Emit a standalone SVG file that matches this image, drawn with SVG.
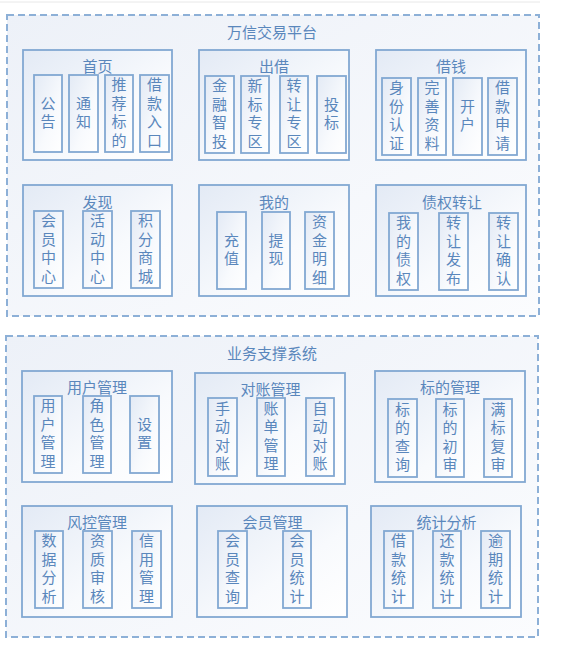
<svg xmlns="http://www.w3.org/2000/svg" width="565" height="656" viewBox="0 0 565 656">
<defs>
<linearGradient id="gBox" x1="0" y1="0" x2="1" y2="1">
<stop offset="0" stop-color="#E3EAF5"/>
<stop offset="0.6" stop-color="#F8FAFD"/>
<stop offset="1" stop-color="#FFFFFF"/>
</linearGradient>
<linearGradient id="gOuter" x1="0" y1="0" x2="1" y2="1">
<stop offset="0" stop-color="#EDF1F8"/>
<stop offset="1" stop-color="#FBFCFE"/>
</linearGradient>
</defs>
<style>
text{font-family:"Noto Sans CJK SC","Noto Sans",sans-serif;font-size:15px;fill:#5A87BC;text-anchor:middle}
.outer{fill:url(#gOuter);stroke:#8DB0D7;stroke-width:2;stroke-dasharray:7 4}
.box{fill:url(#gBox);stroke:#82A8D2;stroke-width:1.8}
.item{fill:url(#gBox);stroke:#82A8D2;stroke-width:1.8}
</style>
<rect width="565" height="656" fill="#FFFFFF"/>
<line x1="0" y1="2" x2="540" y2="2" stroke="#E8E8E8" stroke-width="1"/>
<g id="connectors"/>

<g id="platform">
<rect class="outer" x="7" y="15" width="532" height="301"/>
<text x="272" y="37.5">万信交易平台</text>
</g>

<g id="home">
<rect class="box" x="23" y="50" width="149" height="110"/>
<text x="97.5" y="71.5">首页</text>
<rect class="item" x="34" y="75" width="28" height="77"/><text><tspan x="48" y="108.8">公</tspan><tspan x="48" y="127.3">告</tspan></text>
<rect class="item" x="69" y="75" width="29" height="77"/><text><tspan x="83.5" y="108.8">通</tspan><tspan x="83.5" y="127.3">知</tspan></text>
<rect class="item" x="105" y="75" width="28" height="77"/><text><tspan x="119" y="90.3">推</tspan><tspan x="119" y="108.8">荐</tspan><tspan x="119" y="127.3">标</tspan><tspan x="119" y="145.8">的</tspan></text>
<rect class="item" x="140" y="75" width="29" height="77"/><text><tspan x="154.5" y="90.3">借</tspan><tspan x="154.5" y="108.8">款</tspan><tspan x="154.5" y="127.3">入</tspan><tspan x="154.5" y="145.8">口</tspan></text>
</g>

<g id="lend">
<rect class="box" x="199" y="50" width="150" height="110"/>
<text x="274" y="71.5">出借</text>
<rect class="item" x="205" y="76" width="29" height="77"/><text><tspan x="219.5" y="91.3">金</tspan><tspan x="219.5" y="109.8">融</tspan><tspan x="219.5" y="128.3">智</tspan><tspan x="219.5" y="146.8">投</tspan></text>
<rect class="item" x="241" y="76" width="28" height="77"/><text><tspan x="255" y="91.3">新</tspan><tspan x="255" y="109.8">标</tspan><tspan x="255" y="128.3">专</tspan><tspan x="255" y="146.8">区</tspan></text>
<rect class="item" x="280" y="76" width="28" height="77"/><text><tspan x="294" y="91.3">转</tspan><tspan x="294" y="109.8">让</tspan><tspan x="294" y="128.3">专</tspan><tspan x="294" y="146.8">区</tspan></text>
<rect class="item" x="317" y="76" width="29" height="77"/><text><tspan x="331.5" y="109.8">投</tspan><tspan x="331.5" y="128.3">标</tspan></text>
</g>

<g id="borrow">
<rect class="box" x="376" y="50" width="150" height="110"/>
<text x="451" y="71.5">借钱</text>
<rect class="item" x="382" y="78" width="29" height="77"/><text><tspan x="396.5" y="93.3">身</tspan><tspan x="396.5" y="111.8">份</tspan><tspan x="396.5" y="130.3">认</tspan><tspan x="396.5" y="148.8">证</tspan></text>
<rect class="item" x="418" y="78" width="28" height="77"/><text><tspan x="432" y="93.3">完</tspan><tspan x="432" y="111.8">善</tspan><tspan x="432" y="130.3">资</tspan><tspan x="432" y="148.8">料</tspan></text>
<rect class="item" x="453" y="78" width="29" height="77"/><text><tspan x="467.5" y="111.8">开</tspan><tspan x="467.5" y="130.3">户</tspan></text>
<rect class="item" x="488" y="78" width="29" height="77"/><text><tspan x="502.5" y="93.3">借</tspan><tspan x="502.5" y="111.8">款</tspan><tspan x="502.5" y="130.3">申</tspan><tspan x="502.5" y="148.8">请</tspan></text>
</g>

<g id="discover">
<rect class="box" x="23" y="185" width="149" height="111"/>
<text x="97.5" y="207.5">发现</text>
<rect class="item" x="34" y="211" width="29" height="77"/><text><tspan x="48.5" y="226.3">会</tspan><tspan x="48.5" y="244.8">员</tspan><tspan x="48.5" y="263.3">中</tspan><tspan x="48.5" y="281.8">心</tspan></text>
<rect class="item" x="83" y="211" width="29" height="77"/><text><tspan x="97.5" y="226.3">活</tspan><tspan x="97.5" y="244.8">动</tspan><tspan x="97.5" y="263.3">中</tspan><tspan x="97.5" y="281.8">心</tspan></text>
<rect class="item" x="131" y="211" width="29" height="77"/><text><tspan x="145.5" y="226.3">积</tspan><tspan x="145.5" y="244.8">分</tspan><tspan x="145.5" y="263.3">商</tspan><tspan x="145.5" y="281.8">城</tspan></text>
</g>

<g id="mine">
<rect class="box" x="199" y="185" width="150" height="111"/>
<text x="274" y="207.5">我的</text>
<rect class="item" x="217" y="212" width="29" height="77"/><text><tspan x="231.5" y="245.8">充</tspan><tspan x="231.5" y="264.3">值</tspan></text>
<rect class="item" x="262" y="212" width="28" height="77"/><text><tspan x="276" y="245.8">提</tspan><tspan x="276" y="264.3">现</tspan></text>
<rect class="item" x="305" y="212" width="29" height="77"/><text><tspan x="319.5" y="227.3">资</tspan><tspan x="319.5" y="245.8">金</tspan><tspan x="319.5" y="264.3">明</tspan><tspan x="319.5" y="282.8">细</tspan></text>
</g>

<g id="debt-transfer">
<rect class="box" x="376" y="185" width="150" height="111"/>
<text x="452" y="207.5">债权转让</text>
<rect class="item" x="389" y="213" width="29" height="77"/><text><tspan x="403.5" y="228.3">我</tspan><tspan x="403.5" y="246.8">的</tspan><tspan x="403.5" y="265.3">债</tspan><tspan x="403.5" y="283.8">权</tspan></text>
<rect class="item" x="439" y="213" width="29" height="77"/><text><tspan x="453.5" y="228.3">转</tspan><tspan x="453.5" y="246.8">让</tspan><tspan x="453.5" y="265.3">发</tspan><tspan x="453.5" y="283.8">布</tspan></text>
<rect class="item" x="489" y="213" width="29" height="77"/><text><tspan x="503.5" y="228.3">转</tspan><tspan x="503.5" y="246.8">让</tspan><tspan x="503.5" y="265.3">确</tspan><tspan x="503.5" y="283.8">认</tspan></text>
</g>

<g id="support">
<rect class="outer" x="6" y="336" width="532" height="301"/>
<text x="272" y="358.5">业务支撑系统</text>
</g>

<g id="user-mgmt">
<rect class="box" x="22" y="371" width="150" height="111"/>
<text x="97" y="392.5">用户管理</text>
<rect class="item" x="34" y="396" width="28" height="77"/><text><tspan x="48" y="411.3">用</tspan><tspan x="48" y="429.8">户</tspan><tspan x="48" y="448.3">管</tspan><tspan x="48" y="466.8">理</tspan></text>
<rect class="item" x="83" y="396" width="28" height="77"/><text><tspan x="97" y="411.3">角</tspan><tspan x="97" y="429.8">色</tspan><tspan x="97" y="448.3">管</tspan><tspan x="97" y="466.8">理</tspan></text>
<rect class="item" x="130" y="396" width="29" height="77"/><text><tspan x="144.5" y="429.8">设</tspan><tspan x="144.5" y="448.3">置</tspan></text>
</g>

<g id="reconcile">
<rect class="box" x="195" y="373" width="150" height="111"/>
<text x="270.5" y="394.5">对账管理</text>
<rect class="item" x="208" y="398" width="29" height="78"/><text><tspan x="222.5" y="413.8">手</tspan><tspan x="222.5" y="432.3">动</tspan><tspan x="222.5" y="450.8">对</tspan><tspan x="222.5" y="469.3">账</tspan></text>
<rect class="item" x="257" y="398" width="28" height="78"/><text><tspan x="271" y="413.8">账</tspan><tspan x="271" y="432.3">单</tspan><tspan x="271" y="450.8">管</tspan><tspan x="271" y="469.3">理</tspan></text>
<rect class="item" x="306" y="398" width="28" height="78"/><text><tspan x="320" y="413.8">自</tspan><tspan x="320" y="432.3">动</tspan><tspan x="320" y="450.8">对</tspan><tspan x="320" y="469.3">账</tspan></text>
</g>

<g id="loan-mgmt">
<rect class="box" x="375" y="371" width="150" height="111"/>
<text x="450" y="392.5">标的管理</text>
<rect class="item" x="388" y="399" width="29" height="78"/><text><tspan x="402.5" y="414.8">标</tspan><tspan x="402.5" y="433.3">的</tspan><tspan x="402.5" y="451.8">查</tspan><tspan x="402.5" y="470.3">询</tspan></text>
<rect class="item" x="436" y="399" width="28" height="78"/><text><tspan x="450" y="414.8">标</tspan><tspan x="450" y="433.3">的</tspan><tspan x="450" y="451.8">初</tspan><tspan x="450" y="470.3">审</tspan></text>
<rect class="item" x="484" y="399" width="28" height="78"/><text><tspan x="498" y="414.8">满</tspan><tspan x="498" y="433.3">标</tspan><tspan x="498" y="451.8">复</tspan><tspan x="498" y="470.3">审</tspan></text>
</g>

<g id="risk">
<rect class="box" x="22" y="506" width="150" height="111"/>
<text x="97" y="527.5">风控管理</text>
<rect class="item" x="35" y="531" width="28" height="77"/><text><tspan x="49" y="546.3">数</tspan><tspan x="49" y="564.8">据</tspan><tspan x="49" y="583.3">分</tspan><tspan x="49" y="601.8">析</tspan></text>
<rect class="item" x="83" y="531" width="29" height="77"/><text><tspan x="97.5" y="546.3">资</tspan><tspan x="97.5" y="564.8">质</tspan><tspan x="97.5" y="583.3">审</tspan><tspan x="97.5" y="601.8">核</tspan></text>
<rect class="item" x="132" y="531" width="29" height="77"/><text><tspan x="146.5" y="546.3">信</tspan><tspan x="146.5" y="564.8">用</tspan><tspan x="146.5" y="583.3">管</tspan><tspan x="146.5" y="601.8">理</tspan></text>
</g>

<g id="member-mgmt">
<rect class="box" x="197" y="506" width="150" height="111"/>
<text x="272.5" y="527.5">会员管理</text>
<rect class="item" x="218" y="531" width="29" height="77"/><text><tspan x="232.5" y="546.3">会</tspan><tspan x="232.5" y="564.8">员</tspan><tspan x="232.5" y="583.3">查</tspan><tspan x="232.5" y="601.8">询</tspan></text>
<rect class="item" x="283" y="531" width="28" height="77"/><text><tspan x="297" y="546.3">会</tspan><tspan x="297" y="564.8">员</tspan><tspan x="297" y="583.3">统</tspan><tspan x="297" y="601.8">计</tspan></text>
</g>

<g id="stats">
<rect class="box" x="371" y="506" width="150" height="111"/>
<text x="446.5" y="527.5">统计分析</text>
<rect class="item" x="384" y="531" width="29" height="77"/><text><tspan x="398.5" y="546.3">借</tspan><tspan x="398.5" y="564.8">款</tspan><tspan x="398.5" y="583.3">统</tspan><tspan x="398.5" y="601.8">计</tspan></text>
<rect class="item" x="433" y="531" width="28" height="77"/><text><tspan x="447" y="546.3">还</tspan><tspan x="447" y="564.8">款</tspan><tspan x="447" y="583.3">统</tspan><tspan x="447" y="601.8">计</tspan></text>
<rect class="item" x="481" y="531" width="29" height="77"/><text><tspan x="495.5" y="546.3">逾</tspan><tspan x="495.5" y="564.8">期</tspan><tspan x="495.5" y="583.3">统</tspan><tspan x="495.5" y="601.8">计</tspan></text>
</g>
</svg>
